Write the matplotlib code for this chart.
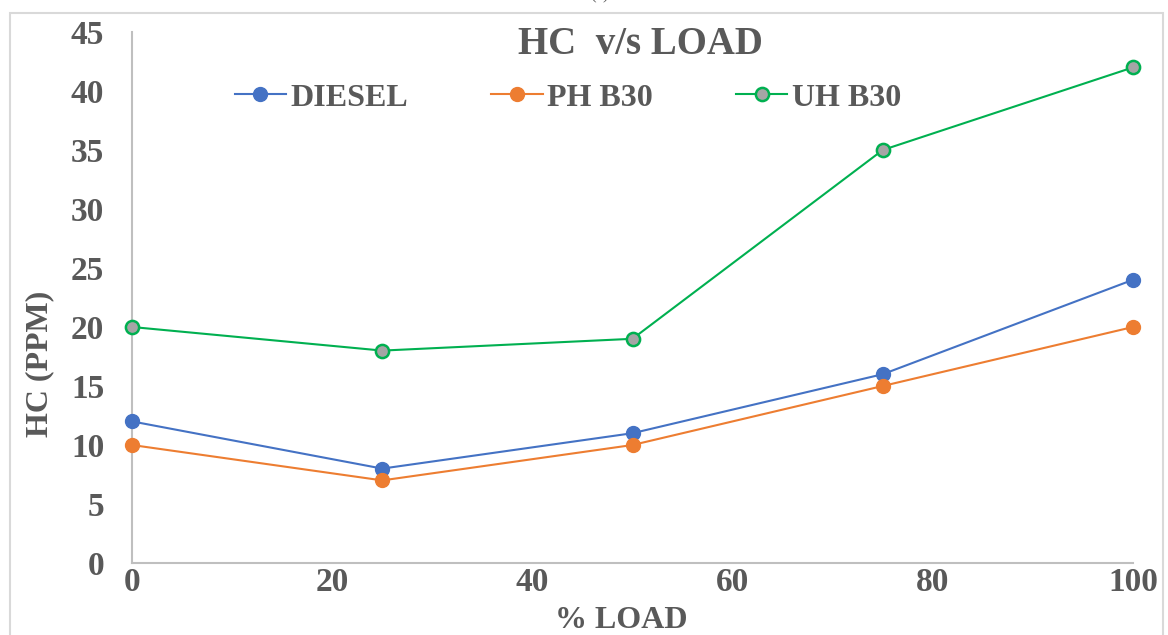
import matplotlib
matplotlib.use("Agg")
import matplotlib.pyplot as plt
from matplotlib.patches import Rectangle

load = [0, 25, 50, 75, 100]
diesel = [12, 8, 11, 16, 24]
ph_b30 = [10, 7, 10, 15, 20]
uh_b30 = [20, 18, 19, 35, 42]
xticks = [0, 20, 40, 60, 80, 100]
yticks = [0, 5, 10, 15, 20, 25, 30, 35, 40, 45]

W, H = 1168, 635
fig = plt.figure(figsize=(W / 100, H / 100), dpi=100)
plt.rcParams['font.family'] = ['Liberation Serif', 'DejaVu Serif']
txt = '#595959'

# outer frame
fig.patches.append(Rectangle((10 / W, -0.05), (1163 - 10) / W, (H - 13) / H + 0.05,
                             transform=fig.transFigure, fill=False,
                             edgecolor='#D9D9D9', linewidth=1.5))
fig.text(600 / W, 1 + 5 / H, '(a)', ha='center', va='center', fontsize=12, color=txt)

x0, x1 = 132, 1133
y0, y1 = 563, 32
ax = fig.add_axes([x0 / W, 1 - y0 / H, (x1 - x0) / W, (y0 - y1) / H])
ax.set_xlim(0, 100)
ax.set_ylim(0, 45)

ax.plot(load, diesel, color='#4472C4', lw=1.5, marker='o', ms=10,
        mfc='#4472C4', mec='#4472C4', label='DIESEL', clip_on=False, zorder=3)
ax.plot(load, ph_b30, color='#ED7D31', lw=1.5, marker='o', ms=10,
        mfc='#ED7D31', mec='#ED7D31', label='PH B30', clip_on=False, zorder=3)
ax.plot(load, uh_b30, color='#00B050', lw=1.5, marker='o', ms=9.5, mew=1.8,
        mfc='#A5A5A5', mec='#00B050', label='UH B30', clip_on=False, zorder=3)

for s in ['top', 'right']:
    ax.spines[s].set_visible(False)
for s in ['left', 'bottom']:
    ax.spines[s].set_color('#BFBFBF')
    ax.spines[s].set_linewidth(1.5)

ax.set_xticks(xticks)
ax.set_yticks(yticks)
ax.tick_params(length=0, labelsize=24, labelcolor=txt)
ax.tick_params(axis='y', pad=20)
ax.tick_params(axis='x', pad=3)
for lab in ax.get_xticklabels() + ax.get_yticklabels():
    lab.set_fontweight('bold')

fig.text(640 / W, 1 - 44 / H, 'HC  v/s LOAD', ha='center', va='center',
         fontsize=28, fontweight='bold', color=txt)
fig.text(621 / W, 1 - 620 / H, '% LOAD', ha='center', va='center',
         fontsize=23, fontweight='bold', color=txt)
fig.text(40 / W, 1 - 364 / H, 'HC (PPM)', ha='center', va='center', rotation=90,
         fontsize=23, fontweight='bold', color=txt)

leg = ax.legend(loc='center', bbox_to_anchor=(568 / W, 1 - 98 / H),
                bbox_transform=fig.transFigure, ncol=3, frameon=False,
                prop={'size': 23, 'weight': 'bold'}, handlelength=1.6,
                handletextpad=0.15, columnspacing=2.6)
for t in leg.get_texts():
    t.set_color(txt)

fig.savefig('out.png', dpi=100)
